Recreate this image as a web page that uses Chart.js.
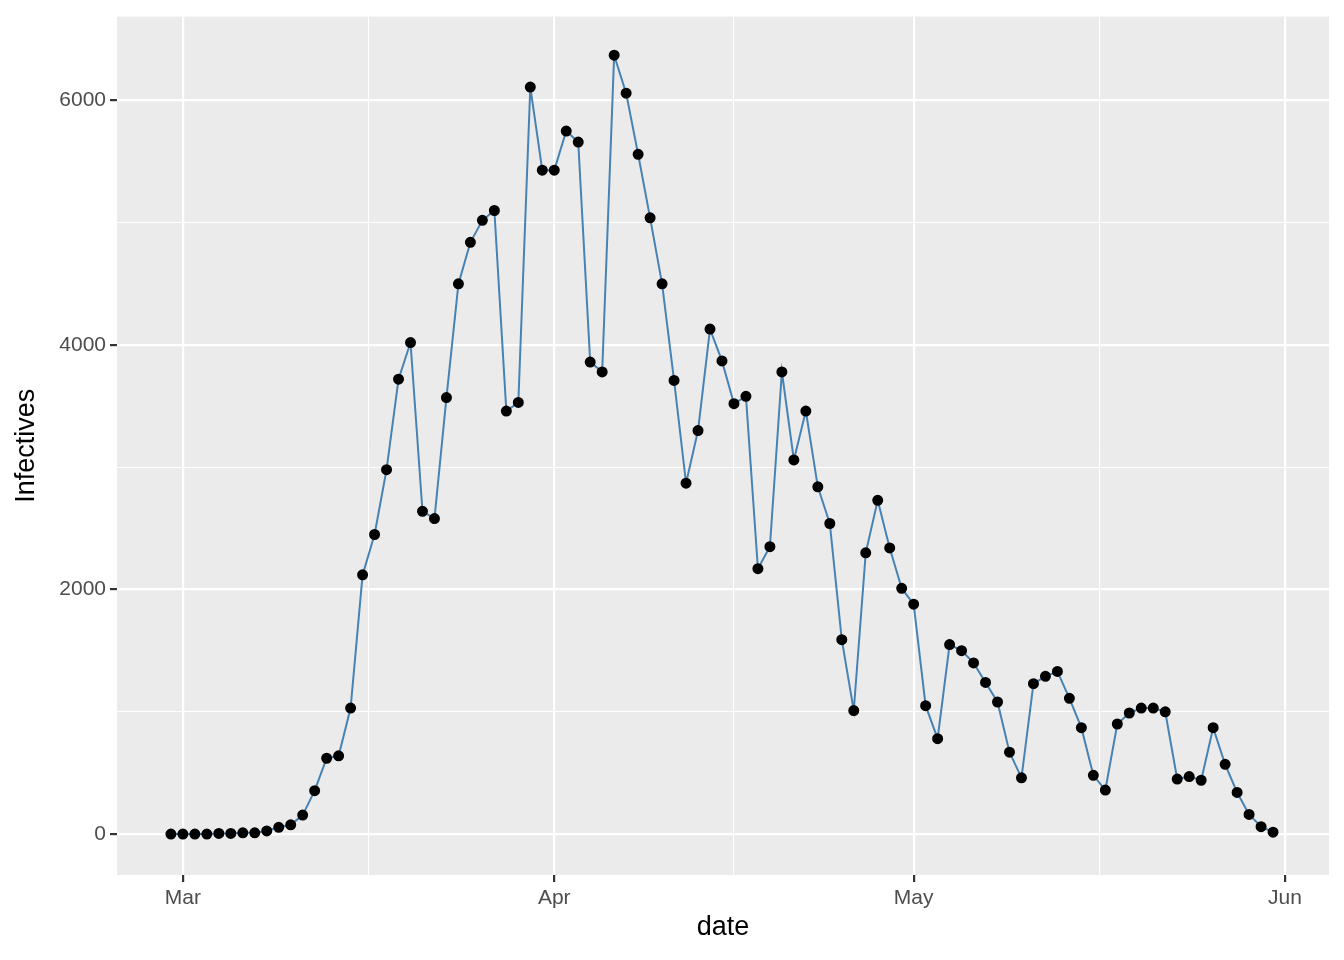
<!DOCTYPE html>
<html><head><meta charset="utf-8">
<script src="https://cdn.jsdelivr.net/npm/chart.js@4"></script>
<style>html,body{margin:0;padding:0;background:#fff}#w{width:1344px;height:960px}</style>
</head><body><div id="w"><canvas id="c"></canvas></div>
<script>
// day offsets relative to Mar 1 (Feb 29 = -1 ... May 31 = 91)
const startDay = -1;
const infectives = [0,0,0,0,5,5,10,10,25,55,75,155,355,620,640,1030,2120,2450,2980,3720,4020,2640,2580,3570,4500,4840,5020,5100,3460,3530,6110,5430,5430,5750,5660,3860,3780,6370,6060,5560,5040,4500,3710,2870,3300,4130,3870,3520,3580,2170,2350,3780,3060,3460,2840,2540,1590,1010,2300,2730,2340,2010,1880,1050,780,1550,1500,1400,1240,1080,670,460,1230,1290,1330,1110,870,480,360,900,990,1030,1030,1000,450,470,440,870,570,340,160,60,15];
const monthTicks = [0,31,61,92];
const monthLabels = ['Mar','Apr','May','Jun'];
const minorX = [15.5,46,76.5];
const yMajor = [0,2000,4000,6000];
const yMinor = [1000,3000,5000];

const pts = infectives.map((v,i)=>({x:startDay+i,y:v}));
const bg = {id:'bg',beforeDraw(ch){const a=ch.chartArea,c=ch.ctx;c.save();c.fillStyle='#ebebeb';c.fillRect(a.left,a.top,a.right-a.left,a.bottom-a.top);c.restore();}};
const isMinorX = v => minorX.includes(v);
const isMinorY = v => yMinor.includes(v);
new Chart(document.getElementById('c'),{
 type:'scatter',
 data:{datasets:[{data:pts,showLine:true,borderColor:'#4682b4',borderWidth:2,pointBackgroundColor:'#000',pointBorderColor:'#000',pointRadius:4.5,pointHoverRadius:4.5,tension:0}]},
 options:{responsive:true,maintainAspectRatio:false,animation:false,
  layout:{padding:{top:10,right:15,left:10,bottom:16}},
  plugins:{legend:{display:false},tooltip:{enabled:false}},
  scales:{
   x:{type:'linear',min:-5.5,max:95.67,
    afterBuildTicks(s){s.ticks=[...monthTicks,...minorX].sort((a,b)=>a-b).map(v=>({value:v}));},
    afterFit(s){s.height=69;},
    ticks:{autoSkip:false,maxRotation:0,color:'#4d4d4d',font:{family:'Liberation Sans',size:21},padding:4,
      callback(v){const i=monthTicks.indexOf(v);return i>=0?monthLabels[i]:'';}},
    grid:{color:'#ffffff',lineWidth:c=>isMinorX(c.tick&&c.tick.value)?1:2.2,tickLength:7,
      tickColor:c=>isMinorX(c.tick&&c.tick.value)?'rgba(0,0,0,0)':'#333'},
    border:{display:false},
    title:{display:true,text:'date',color:'#000',font:{family:'Liberation Sans',size:27},padding:{top:0,bottom:0}}
   },
   y:{min:-335,max:6686,
    afterBuildTicks(s){s.ticks=[...yMajor,...yMinor].sort((a,b)=>a-b).map(v=>({value:v}));},
    afterFit(s){s.width=107;},
    ticks:{autoSkip:false,color:'#4d4d4d',font:{family:'Liberation Sans',size:21},padding:4,
      callback(v){return yMajor.includes(v)?String(v):'';}},
    grid:{color:'#ffffff',lineWidth:c=>isMinorY(c.tick&&c.tick.value)?1:2.2,tickLength:7,
      tickColor:c=>isMinorY(c.tick&&c.tick.value)?'rgba(0,0,0,0)':'#333'},
    border:{display:false},
    title:{display:true,text:'Infectives',color:'#000',font:{family:'Liberation Sans',size:27},padding:{top:0,bottom:0}}
   }
  }
 },
 plugins:[bg]
});
</script></body></html>
